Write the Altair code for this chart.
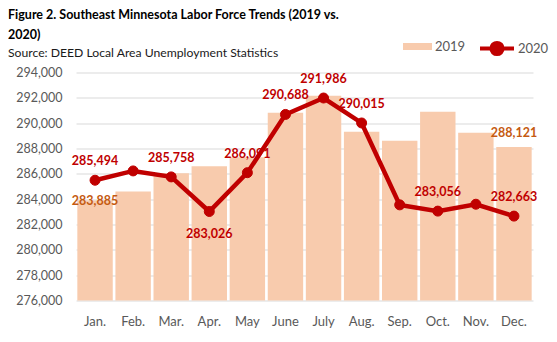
import altair as alt
import pandas as pd

months = ["Jan.", "Feb.", "Mar.", "Apr.", "May", "June", "July", "Aug.", "Sep.", "Oct.", "Nov.", "Dec."]
values_2019 = [283885, 284600, 286050, 286600, 287300, 290830, 292170, 289330, 288620, 290900, 289250, 288121]
values_2020 = [285494, 286230, 285758, 283026, 286091, 290688, 291986, 290015, 283550, 283056, 283600, 282663]
y_ticks = [276000, 278000, 280000, 282000, 284000, 286000, 288000, 290000, 292000, 294000]

labels_2020_above = ["Jan.", "Mar.", "May", "June", "July", "Aug.", "Oct.", "Dec."]
labels_2020_below = ["Apr."]
labels_2019_above = ["Dec."]
labels_2019_top = ["Jan."]

df = pd.DataFrame({
    "month": months * 2,
    "year": ["2019"] * len(months) + ["2020"] * len(months),
    "value": values_2019 + values_2020,
})

FONT = "Lato"
RED = "#C00000"
PEACH = "#F8CBAD"
ORANGE = "#C55A11"

x = alt.X("month:N", sort=months, title=None,
          scale=alt.Scale(paddingInner=0.07, paddingOuter=0.035),
          axis=alt.Axis(labelAngle=0, ticks=False, domain=False, labelPadding=15,
                        labelFontSize=13, labelColor="#595959", labelFont=FONT, grid=False))
y = alt.Y("value:Q", title=None,
          scale=alt.Scale(domain=[y_ticks[0], y_ticks[-1]], nice=False, zero=False),
          axis=alt.Axis(values=y_ticks, format=",.0f", ticks=False, domain=False, labelPadding=14,
                        labelFontSize=12.5, labelColor="#595959", labelFont=FONT,
                        grid=True, gridColor="#D9D9D9", gridWidth=1))

base = alt.Chart(df)

bars = base.transform_filter("datum.year == '2019'").mark_bar(clip=True).encode(
    x=x, y=y,
    fill=alt.Fill("year:N", scale=alt.Scale(domain=["2019"], range=[PEACH]),
                  legend=alt.Legend(title=None, orient="none", legendX=327, legendY=-40.5,
                                    symbolType="M-1,-0.24H1V0.24H-1Z", symbolSize=841,
                                    symbolStrokeWidth=0, labelOffset=3, padding=0,
                                    labelFont=FONT, labelFontSize=13, labelColor="#595959")),
)

line = base.transform_filter("datum.year == '2020'").mark_line(color=RED, strokeWidth=4.5).encode(
    x=x, y=y,
)

points = base.transform_filter("datum.year == '2020'").mark_circle(size=100, opacity=1, stroke=RED, strokeWidth=1).encode(
    x=x, y=y,
    color=alt.Color("year:N", scale=alt.Scale(domain=["2020"], range=[RED]),
                    legend=alt.Legend(title=None, orient="none", legendX=402, legendY=-43,
                                      symbolType="M-1,0H1M0.33,0A0.33,0.33 0 1,1 -0.33,0A0.33,0.33 0 1,1 0.33,0Z",
                                      symbolSize=1156, symbolStrokeColor=RED, symbolFillColor=RED,
                                      symbolStrokeWidth=4, labelOffset=2, padding=0,
                                      labelFont=FONT, labelFontSize=13, labelColor="#595959")),
)

def labels(year, month_list, color, dy):
    return base.transform_filter(f"datum.year == '{year}'").transform_filter(
        alt.FieldOneOfPredicate(field="month", oneOf=month_list)
    ).mark_text(font=FONT, fontSize=12.5, fontWeight="bold", color=color,
                baseline="alphabetic", dy=dy).encode(
        x=x, y=y, text=alt.Text("value:Q", format=","))

chart = alt.layer(
    bars, line, points,
    labels("2020", labels_2020_above, RED, -15),
    labels("2020", labels_2020_below, RED, 26),
    labels("2019", labels_2019_above, ORANGE, -10),
    labels("2019", labels_2019_top, ORANGE, 4),
).properties(
    width=457, height=228,
    autosize=alt.AutoSizeParams(type="none"),
    padding={"left": 68, "top": 64.5, "right": 16, "bottom": 33},
    title=alt.TitleParams(
        text=["Figure 2. Southeast Minnesota Labor Force Trends (2019 vs.", "2020)"],
        subtitle="Source: DEED Local Area Unemployment Statistics",
        anchor="start", frame="group", dx=-68, dy=36,
        font=FONT, fontSize=12.5, fontWeight="bold", color="#000000", lineHeight=20,
        subtitleFont=FONT, subtitleFontSize=12.2, subtitleColor="#1a1a1a",
        subtitlePadding=6, offset=6,
    ),
).configure_view(stroke=None)

chart.save("out.html", embed_options={"renderer": "svg", "actions": False})
